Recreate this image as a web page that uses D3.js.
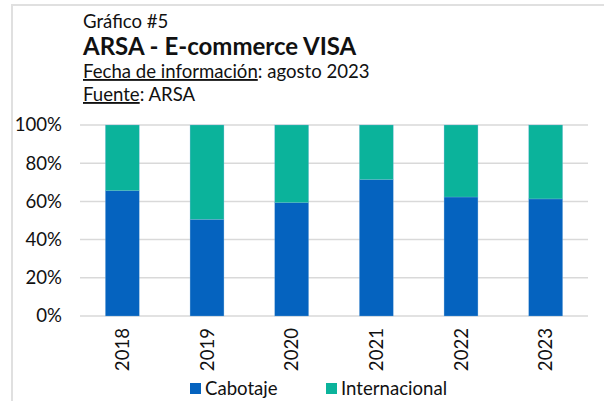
<!DOCTYPE html>
<html><head><meta charset="utf-8">
<script src="https://cdn.jsdelivr.net/npm/d3@7"></script>
<style>
html,body{margin:0;padding:0;background:#fff;}
svg{display:block;font-family:Lato,"Open Sans",sans-serif;}
</style></head>
<body>
<svg id="c" width="604" height="401"></svg>
<script>
const years = ["2018","2019","2020","2021","2022","2023"];
const cabotaje = [65.6, 50.6, 59.3, 71.4, 62.3, 61.3];
const internacional = [34.4, 49.4, 40.7, 28.6, 37.7, 38.7];
const seriesNames = ["Cabotaje","Internacional"];
const seriesColors = ["#0563BF","#0BB39B"];
const yTicks = [0,20,40,60,80,100];

const FS = 18.6;
const svg = d3.select("#c");
// frame
svg.append("line").attr("x1",12).attr("x2",12).attr("y1",5).attr("y2",401).attr("stroke","#e0e0e0").attr("stroke-width",2);
svg.append("line").attr("x1",11).attr("x2",604).attr("y1",5).attr("y2",5).attr("stroke","#e0e0e0").attr("stroke-width",2);

// headings
const tx = 83;
svg.append("text").attr("x",tx).attr("y",28).attr("font-size",FS).attr("fill","#111").text("Gráfico #5");
svg.append("text").attr("x",tx).attr("y",55).attr("font-size",24).attr("font-weight","bold").attr("fill","#111").text("ARSA - E-commerce VISA");
const t3 = svg.append("text").attr("x",tx).attr("y",78).attr("font-size",FS).attr("fill","#111");
t3.append("tspan").attr("text-decoration","underline").text("Fecha de información");
t3.append("tspan").text(": agosto 2023");
const t4 = svg.append("text").attr("x",tx).attr("y",101).attr("font-size",FS).attr("fill","#111");
t4.append("tspan").attr("text-decoration","underline").text("Fuente");
t4.append("tspan").text(": ARSA");

const m = {left:80, right:588, top:125, bottom:316};
const x = d3.scaleBand().domain(years).range([m.left,m.right]).paddingInner(0.6).paddingOuter(0.3);
const y = d3.scaleLinear().domain([0,100]).range([m.bottom,m.top]);

// grid
svg.append("g").selectAll("line").data(yTicks).join("line")
  .attr("x1",m.left).attr("x2",m.right)
  .attr("y1",d=>y(d)).attr("y2",d=>y(d))
  .attr("stroke","#d9d9d9").attr("stroke-width",1.5);

// y axis
const ya = svg.append("g").attr("transform",`translate(${m.left},0)`)
  .call(d3.axisLeft(y).tickValues(yTicks).tickFormat(d=>d+"%").tickSize(0).tickPadding(18));
ya.select(".domain").remove();
ya.selectAll("text").attr("font-size",FS).attr("fill","#111").attr("font-family","Lato");

// bars
const data = years.map((yr,i)=>({year:yr, Cabotaje:cabotaje[i], Internacional:internacional[i]}));
const stack = d3.stack().keys(seriesNames)(data);
svg.append("g").selectAll("g").data(stack).join("g")
  .attr("fill",(d,i)=>seriesColors[i])
  .selectAll("rect").data(d=>d).join("rect")
  .attr("x",d=>x(d.data.year))
  .attr("width",x.bandwidth())
  .attr("y",d=>y(d[1]))
  .attr("height",d=>y(d[0])-y(d[1]))
  .attr("stroke","#7fb6e0").attr("stroke-width",0.5).attr("stroke-opacity",0.6);

// x axis
const xa = svg.append("g").attr("transform",`translate(0,${m.bottom})`)
  .call(d3.axisBottom(x).tickSize(0).tickPadding(0));
xa.select(".domain").remove();
xa.selectAll("text")
  .attr("font-size",FS).attr("fill","#111").attr("font-family","Lato")
  .attr("transform","rotate(-90)")
  .attr("text-anchor","end")
  .attr("x",-12).attr("y",0).attr("dy","0.35em");

// legend
const legX = [190, 326];
const leg = svg.append("g").selectAll("g").data(seriesNames).join("g")
  .attr("transform",(d,i)=>`translate(${legX[i]},383)`);
leg.append("rect").attr("width",11).attr("height",11).attr("fill",(d,i)=>seriesColors[i]);
leg.append("text").attr("x",15).attr("y",12).attr("font-size",FS).attr("fill","#111").text(d=>d);
</script>
</body></html>
